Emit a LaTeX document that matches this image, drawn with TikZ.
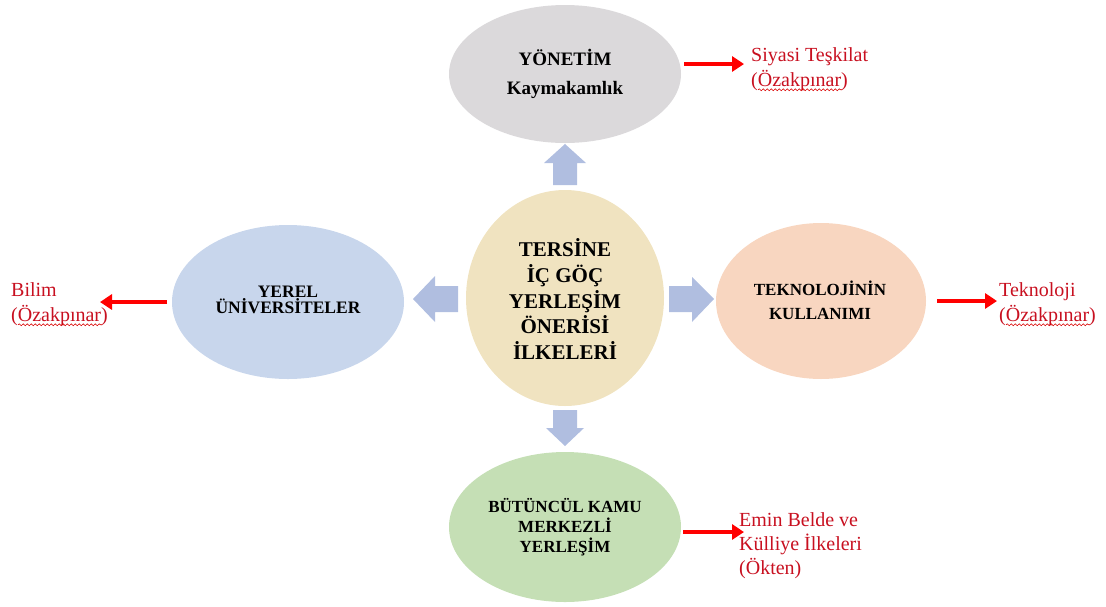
\documentclass[tikz,border=0pt]{standalone}
\usepackage{fontspec}
\setmainfont{Liberation Serif}
\usetikzlibrary{arrows.meta,decorations.pathmorphing,calc}
\definecolor{cgray}{RGB}{219,217,219}
\definecolor{cwheat}{RGB}{240,227,192}
\definecolor{cblue}{RGB}{200,214,236}
\definecolor{cpeach}{RGB}{248,214,192}
\definecolor{cgreen}{RGB}{197,223,181}
\definecolor{carrow}{RGB}{176,190,224}
\definecolor{cred}{RGB}{200,16,32}
\tikzset{
  blk/.style={font=\bfseries, align=center, inner sep=0pt, text=black},
  blockarrow/.style={fill=carrow, draw=none},
  redarrow/.style={draw=red, line width=3.4pt, -{Triangle[length=12pt,width=15pt]}},
  reftext/.style={text=cred, align=left, inner sep=0pt, font=\fontsize{20}{25}\selectfont},
  squig/.style={draw=red!85!black, line width=0.6pt, decorate, decoration={snake, amplitude=0.9pt, segment length=4pt}},
}
\begin{document}
\begin{tikzpicture}[x=1pt,y=-1pt]
\useasboundingbox (0,0) rectangle (1106,606);
% ellipses
\fill[cgray]  (565,74)  ellipse [x radius=116, y radius=69];
\fill[cwheat] (565,298) ellipse [x radius=99, y radius=108];
\fill[cblue]  (288,302) ellipse [x radius=116, y radius=77];
\fill[cpeach] (821,301) ellipse [x radius=105, y radius=78];
\fill[cgreen] (565,527) ellipse [x radius=116, y radius=75];
% labels in ellipses
\node[blk, font=\bfseries\fontsize{19}{29}\selectfont] (top) at (565,74) {YÖNETİM\\Kaymakamlık};
\node[blk, font=\bfseries\fontsize{21}{25.7}\selectfont] (ctr) at (565,299) {TERSİNE\\İÇ GÖÇ\\YERLEŞİM\\ÖNERİSİ\\İLKELERİ};
\node[blk, font=\bfseries\fontsize{17.5}{16}\selectfont] (lft) at (288,300) {YEREL\\ÜNİVERSİTELER};
\node[blk, font=\bfseries\fontsize{17}{24}\selectfont] (rgt) at (820,300) {TEKNOLOJİNİN\\KULLANIMI};
\node[blk, font=\bfseries\fontsize{17}{20}\selectfont] (bot) at (565,527) {BÜTÜNCÜL KAMU\\MERKEZLİ\\YERLEŞİM};
% block arrows
\fill[blockarrow] (553,185) -- (553,163) -- (544,163) -- (565,144) -- (586,163) -- (577,163) -- (577,185) -- cycle;
\fill[blockarrow] (553,410) -- (553,428) -- (546,428) -- (565,446) -- (584,428) -- (577,428) -- (577,410) -- cycle;
\fill[blockarrow] (458,286) -- (435,286) -- (435,276) -- (413,299) -- (435,322) -- (435,312) -- (458,312) -- cycle;
\fill[blockarrow] (669,286) -- (692,286) -- (692,277) -- (714,299) -- (692,322) -- (692,312) -- (669,312) -- cycle;
% reference texts
\node[reftext, anchor=west] (sy) at (751,69) {Siyasi Teşkilat\\(Özakpınar)};
\node[reftext, anchor=west] (bi) at (11,304) {Bilim\\(Özakpınar)};
\node[reftext, anchor=west] (te) at (999,304) {Teknoloji\\(Özakpınar)};
\node[reftext, anchor=west, font=\fontsize{20}{24}\selectfont] (em) at (739,546) {Emin Belde ve\\Külliye İlkeleri\\(Ökten)};
% spelling squiggles
\draw[squig] ($(sy.south west)+(7,-1)$) -- ++(84,0);
\draw[squig] ($(bi.south west)+(7,-1)$) -- ++(84,0);
\draw[squig] ($(te.south west)+(7,-1)$) -- ++(84,0);
% red arrows
\coordinate (sy0) at (684,64);
\coordinate (sy1) at (744,64);
\coordinate (bi0) at (167,302);
\coordinate (bi1) at (100,302);
\coordinate (te0) at (937,301);
\coordinate (te1) at (997,301);
\coordinate (em0) at (683,532);
\coordinate (em1) at (744,532);
\draw[redarrow] (sy0) -- (sy1);
\draw[redarrow] (bi0) -- (bi1);
\draw[redarrow] (te0) -- (te1);
\draw[redarrow] (em0) -- (em1);
\end{tikzpicture}
\end{document}
